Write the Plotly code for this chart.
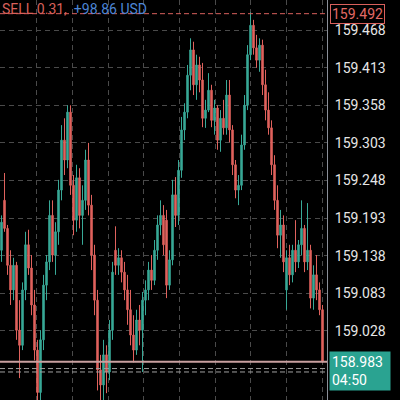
import plotly.graph_objects as go

# candle data (prices)
opens = [159.146,159.219,159.178,159.124,159.088,159.124,159.029,159.007,159.088,159.154,
         159.120,159.066,159.000,158.938,159.015,159.095,159.129,159.197,159.139,159.173,
         159.234,159.307,159.278,159.348,159.241,159.190,159.252,159.197,159.219,159.278,
         159.212,159.139,159.073,158.971,158.949,158.993,158.968,159.029,159.146,159.124,
         159.135,159.114,159.088,159.059,159.022,159.000,159.044,159.029,159.073,159.088,
         159.117,159.102,159.146,159.183,159.197,159.190,159.095,159.132,159.227,159.197,
         159.263,159.322,159.348,159.402,159.439,159.388,159.417,159.395,159.339,159.351,
         159.380,159.336,159.354,159.307,159.339,159.325,159.373,159.322,159.271,159.234,
         159.241,159.300,159.358,159.432,159.475,159.442,159.424,159.446,159.388,159.351,
         159.325,159.271,159.219,159.168,159.183,159.088,159.135,159.110,159.146,159.129,
         159.154,159.178,159.129,159.146,159.076,159.110,159.088,159.059]
highs = [159.197,159.259,159.183,159.146,159.135,159.129,159.073,159.099,159.173,159.176,
         159.139,159.088,159.015,159.029,159.110,159.139,159.219,159.219,159.187,159.249,
         159.329,159.339,159.358,159.358,159.256,159.271,159.266,159.241,159.293,159.303,
         159.227,159.154,159.088,158.993,159.015,159.007,159.044,159.129,159.181,159.149,
         159.146,159.129,159.110,159.088,159.051,159.059,159.066,159.085,159.102,159.129,
         159.139,159.161,159.197,159.219,159.212,159.205,159.146,159.249,159.253,159.278,
         159.341,159.361,159.417,159.456,159.451,159.432,159.429,159.420,159.366,159.405,
         159.388,159.366,159.358,159.351,159.366,159.395,159.395,159.329,159.278,159.256,
         159.315,159.373,159.446,159.494,159.483,159.461,159.456,159.454,159.410,159.377,
         159.336,159.285,159.241,159.205,159.197,159.146,159.154,159.154,159.190,159.161,
         159.219,159.183,159.215,159.154,159.124,159.139,159.099,159.066]
lows = [159.129,159.173,159.110,159.066,159.073,159.015,158.959,159.000,159.073,159.110,
        159.051,158.985,158.925,158.925,159.000,159.073,159.117,159.129,159.110,159.154,
        159.219,159.256,159.266,159.227,159.168,159.173,159.178,159.154,159.205,159.197,
        159.117,159.051,158.941,158.925,158.925,158.937,158.956,159.015,159.110,159.110,
        159.099,159.073,159.037,159.007,158.982,158.993,159.007,158.968,159.051,159.073,
        159.088,159.095,159.132,159.168,159.139,159.076,159.088,159.124,159.180,159.183,
        159.252,159.307,159.339,159.380,159.373,159.366,159.377,159.326,159.325,159.348,
        159.326,159.315,159.293,159.290,159.315,159.315,159.304,159.256,159.222,159.212,
        159.234,159.293,159.351,159.424,159.432,159.413,159.407,159.373,159.336,159.315,
        159.256,159.205,159.149,159.135,159.114,159.059,159.095,159.099,159.114,159.120,
        159.139,159.114,159.117,159.061,159.059,159.073,159.051,158.982]
closes = [159.187,159.178,159.124,159.088,159.124,159.029,159.007,159.088,159.154,159.120,
          159.066,159.000,158.938,159.015,159.095,159.129,159.197,159.139,159.173,159.234,
          159.307,159.278,159.348,159.241,159.190,159.252,159.197,159.219,159.278,159.212,
          159.139,159.073,158.971,158.949,158.993,158.968,159.029,159.114,159.124,159.135,
          159.114,159.088,159.059,159.022,159.000,159.044,159.029,159.073,159.088,159.117,
          159.102,159.146,159.183,159.197,159.154,159.095,159.132,159.227,159.197,159.263,
          159.322,159.348,159.402,159.439,159.388,159.417,159.395,159.339,159.351,159.380,
          159.336,159.354,159.307,159.339,159.325,159.373,159.322,159.271,159.234,159.241,
          159.300,159.358,159.432,159.475,159.442,159.424,159.446,159.388,159.351,159.325,
          159.271,159.219,159.168,159.183,159.129,159.135,159.110,159.146,159.129,159.154,
          159.178,159.129,159.146,159.076,159.110,159.088,159.059,158.983]

tick_vals = [159.468, 159.413, 159.358, 159.303, 159.248, 159.193, 159.138, 159.083, 159.028]
tick_text = ["159.468", "159.413", "159.358", "159.303", "159.248", "159.193", "159.138", "159.083", "159.028"]
order_price = 159.492
current_price = 158.983
extra_dashed = [158.973, 158.968]
countdown = "04:50"

idx = list(range(len(closes)))

fig = go.Figure()
fig.add_trace(go.Candlestick(
    x=idx, open=opens, high=highs, low=lows, close=closes,
    increasing=dict(line=dict(color="#38a997", width=1), fillcolor="#38a997"),
    decreasing=dict(line=dict(color="#e0625d", width=1), fillcolor="#e0625d"),
    whiskerwidth=0, showlegend=False, hoverinfo="skip",
))

shapes = []
shapes.append(dict(type="line", xref="paper", x0=0, x1=1, yref="y", y0=order_price, y1=order_price,
                   line=dict(color="#d9605c", width=1, dash="5px,3px")))
for v in extra_dashed:
    shapes.append(dict(type="line", xref="paper", x0=0, x1=1, yref="y", y0=v, y1=v,
                       line=dict(color="#a0a0a0", width=1, dash="5px,3px")))
shapes.append(dict(type="line", xref="paper", x0=0, x1=1, yref="y", y0=current_price, y1=current_price,
                   line=dict(color="#c9a0a0", width=2)))

annotations = [
    dict(xref="paper", yref="y", x=1.0, y=order_price, xanchor="left", yanchor="middle",
         text="159.492", showarrow=False, font=dict(family="Roboto", size=14, color="#e36a66"),
         bordercolor="#d9605c", borderwidth=1, borderpad=1, bgcolor="#000000", xshift=3),
    dict(xref="paper", yref="paper", x=1.0, y=1 - 371 / 400, xanchor="left", yanchor="middle",
         text="158.983<br>" + countdown, showarrow=False, align="left",
         font=dict(family="Roboto", size=14, color="#ffffff"),
         bgcolor="#2aa391", borderpad=2, xshift=2, width=56),
    dict(xref="paper", yref="paper", x=0, y=1, xanchor="left", yanchor="top", xshift=0, yshift=1,
         text="<span style='color:#d9605c'>SELL 0.31,</span>  <span style='color:#4d86d6'>+98.86 USD</span>",
         showarrow=False, font=dict(family="Roboto", size=14)),
]

fig.update_layout(
    width=400, height=400,
    margin=dict(l=0, r=73, t=0, b=0),
    paper_bgcolor="#000000", plot_bgcolor="#000000",
    shapes=shapes, annotations=annotations,
    xaxis=dict(range=[-0.5, 108.5], rangeslider=dict(visible=False), showticklabels=False,
               showgrid=True, gridcolor="#4a4a4a", griddash="5px,4px", gridwidth=1,
               tick0=-0.2, dtick=11.9, tickmode="linear", zeroline=False, showline=False, ticks=""),
    yaxis=dict(range=[158.927, 159.512], side="right", tickvals=tick_vals, ticktext=tick_text,
               showgrid=True, gridcolor="#4a4a4a", griddash="5px,4px", gridwidth=1,
               showline=True, linecolor="#8a8f98", linewidth=1, zeroline=False,
               ticks="outside", ticklen=4, tickcolor="#000000",
               tickfont=dict(family="Roboto", size=14, color="#e6e6e6")),
)

fig.write_html("out.html", config={"displayModeBar": False},
               post_script="document.body.style.margin='0';document.body.style.background='#000';")
